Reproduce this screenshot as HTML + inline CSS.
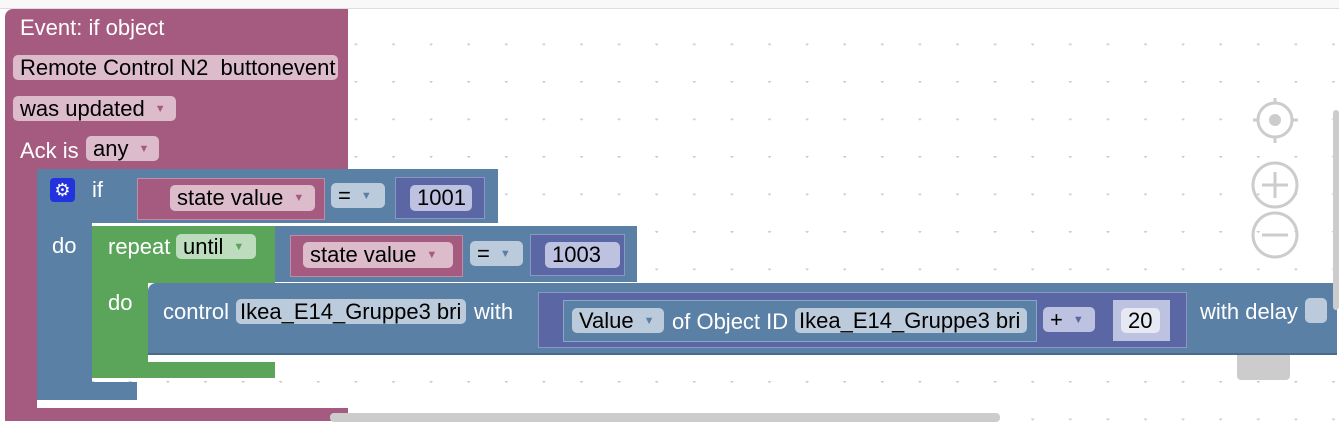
<!DOCTYPE html>
<html><head><meta charset="utf-8"><style>
body{margin:0;width:1339px;height:421px;overflow:hidden;background:#fff;font-family:"Liberation Sans",sans-serif;position:relative}
div{position:absolute;box-sizing:border-box}
.t{color:#fff;font-size:22px;line-height:26px;white-space:nowrap}
.f{color:#000;font-size:22px;line-height:26px;border-radius:5px;padding:0 7px;white-space:nowrap;overflow:hidden}
.ar{font-size:11px;vertical-align:4px;margin-left:10px}
.pk{background:#a55b80}.bl{background:#5b80a5}.gr{background:#5ba55b}.pu{background:#5b67a5}
</style></head><body>
<svg width="1339" height="421" style="position:absolute;left:0;top:0">
<defs><pattern id="g" x="-1" y="6" width="37.6" height="37.5" patternUnits="userSpaceOnUse">
<path d="M17 0.5h3M18.5 -1v3" stroke="#ccc" stroke-width="1"/>
<circle cx="18.5" cy="0.5" r="1.2" fill="#ccc"/></pattern></defs>
<rect x="0" y="9" width="1339" height="412" fill="url(#g)"/>
<rect x="0" y="0" width="1339" height="8" fill="#f8f8f8"/>
<line x1="0" y1="8.5" x2="1339" y2="8.5" stroke="#ddd"/>
<g stroke="#ccc" stroke-width="3" fill="none">
<circle cx="1275" cy="120" r="17"/><line x1="1275" y1="98" x2="1275" y2="103"/><line x1="1275" y1="137" x2="1275" y2="143"/><line x1="1253" y1="120" x2="1258" y2="120"/><line x1="1292" y1="120" x2="1298" y2="120"/>
<circle cx="1275" cy="185" r="22"/><line x1="1262" y1="185" x2="1288" y2="185"/><line x1="1275" y1="172" x2="1275" y2="198"/>
<circle cx="1275" cy="235" r="22"/><line x1="1262" y1="235" x2="1288" y2="235"/>
</g>
<circle cx="1275" cy="120" r="6" fill="#ccc"/>
</svg>
<div class="pk" style="left:5px;top:9px;width:343px;height:160px;border-radius:8px 0 0 0"></div>
<div class="pk" style="left:5px;top:160px;width:32px;height:261px"></div>
<div class="pk" style="left:5px;top:408px;width:343px;height:13px"></div>
<div class="t" style="left:20px;top:15px">Event: if object</div>
<div class="f" style="left:13px;top:55px;width:325px;height:25px;background:#dcbccb">Remote Control N2&nbsp; buttonevent</div>
<div class="f" style="left:13px;top:96px;width:163px;height:25px;background:#dcbccb">was updated<span class="ar" style="color:#a55b80">▼</span></div>
<div class="t" style="left:20px;top:138px">Ack is</div>
<div class="f" style="left:86px;top:136px;width:73px;height:25px;background:#dcbccb">any<span class="ar" style="color:#a55b80">▼</span></div>
<div class="bl" style="left:37px;top:169px;width:461px;height:54px;border-radius:8px 0 0 0"></div>
<div class="bl" style="left:37px;top:169px;width:55px;height:231px"></div>
<div class="bl" style="left:37px;top:382px;width:100px;height:18px"></div>
<div style="left:50px;top:178px;width:25px;height:24px;background:#2233dd;border-radius:4px;color:#fff;font-size:18px;line-height:24px;text-align:center">⚙</div>
<div class="t" style="left:92px;top:177px">if</div>
<div class="pk" style="left:137px;top:178px;width:188px;height:42px;border:1px solid #c48aa6"></div>
<div class="f" style="left:170px;top:185px;width:145px;height:26px;background:#dcbccb">state value<span class="ar" style="color:#a55b80">▼</span></div>
<div class="f" style="left:331px;top:183px;width:54px;height:25px;background:#bccbdb">=<span class="ar" style="color:#5b80a5">▼</span></div>
<div class="pu" style="left:395px;top:177px;width:90px;height:42px;border:1px solid #8d95c4"></div>
<div class="f" style="left:410px;top:185px;width:62px;height:26px;background:#bdc2e0">1001</div>
<div class="t" style="left:52px;top:233px">do</div>
<div class="gr" style="left:92px;top:226px;width:183px;height:57px;border-radius:8px 0 0 0"></div>
<div class="gr" style="left:92px;top:226px;width:56px;height:152px"></div>
<div class="gr" style="left:92px;top:362px;width:183px;height:16px"></div>
<div class="t" style="left:108px;top:234px">repeat</div>
<div class="f" style="left:176px;top:234px;width:80px;height:25px;background:#bddcbd">until<span class="ar" style="color:#5ba55b">▼</span></div>
<div class="bl" style="left:275px;top:226px;width:362px;height:56px"></div>
<div class="pk" style="left:290px;top:235px;width:173px;height:42px;border:1px solid #c48aa6"></div>
<div class="f" style="left:303px;top:242px;width:150px;height:26px;background:#dcbccb">state value<span class="ar" style="color:#a55b80">▼</span></div>
<div class="f" style="left:470px;top:241px;width:53px;height:25px;background:#bccbdb">=<span class="ar" style="color:#5b80a5">▼</span></div>
<div class="pu" style="left:530px;top:234px;width:95px;height:42px;border:1px solid #8d95c4"></div>
<div class="f" style="left:545px;top:242px;width:75px;height:26px;background:#bdc2e0">1003</div>
<div class="t" style="left:108px;top:290px">do</div>
<div class="bl" style="left:148px;top:283px;width:1189px;height:72px;border-radius:8px 0 0 0;border-bottom:2px solid #4a6a8a"></div>
<div class="t" style="left:163px;top:299px">control</div>
<div class="f" style="left:236px;top:299px;width:230px;height:25px;background:#bccbdb;padding:0 4px">Ikea_E14_Gruppe3 bri</div>
<div class="t" style="left:474px;top:299px">with</div>
<div class="pu" style="left:538px;top:292px;width:649px;height:56px;border:1px solid #8d95c4"></div>
<div class="bl" style="left:563px;top:300px;width:474px;height:42px;border:1px solid #8aa6c4"></div>
<div class="f" style="left:572px;top:308px;width:92px;height:25px;background:#bccbdb">Value<span class="ar" style="color:#5b80a5">▼</span></div>
<div class="t" style="left:672px;top:309px">of Object ID</div>
<div class="f" style="left:795px;top:308px;width:232px;height:25px;background:#bccbdb;padding:0 4px">Ikea_E14_Gruppe3 bri</div>
<div class="f" style="left:1043px;top:307px;width:52px;height:25px;background:#bdc2e0">+<span class="ar" style="color:#5b67a5">▼</span></div>
<div style="left:1113px;top:300px;width:57px;height:41px;background:#bdc2e0"></div>
<div class="f" style="left:1121px;top:308px;width:39px;height:25px;background:#e6e8f3">20</div>
<div class="t" style="left:1200px;top:299px">with delay</div>
<div style="left:1305px;top:298px;width:22px;height:25px;background:#bccbdb;border-radius:5px"></div>
<div style="left:1237px;top:355px;width:53px;height:25px;background:#ccc;border-radius:0 0 4px 4px"></div>
<div style="left:330px;top:413px;width:670px;height:9px;background:#ccc;border-radius:4px"></div>
<div style="left:1333px;top:110px;width:6px;height:200px;background:#ccc;border-radius:3px"></div>
</body></html>
